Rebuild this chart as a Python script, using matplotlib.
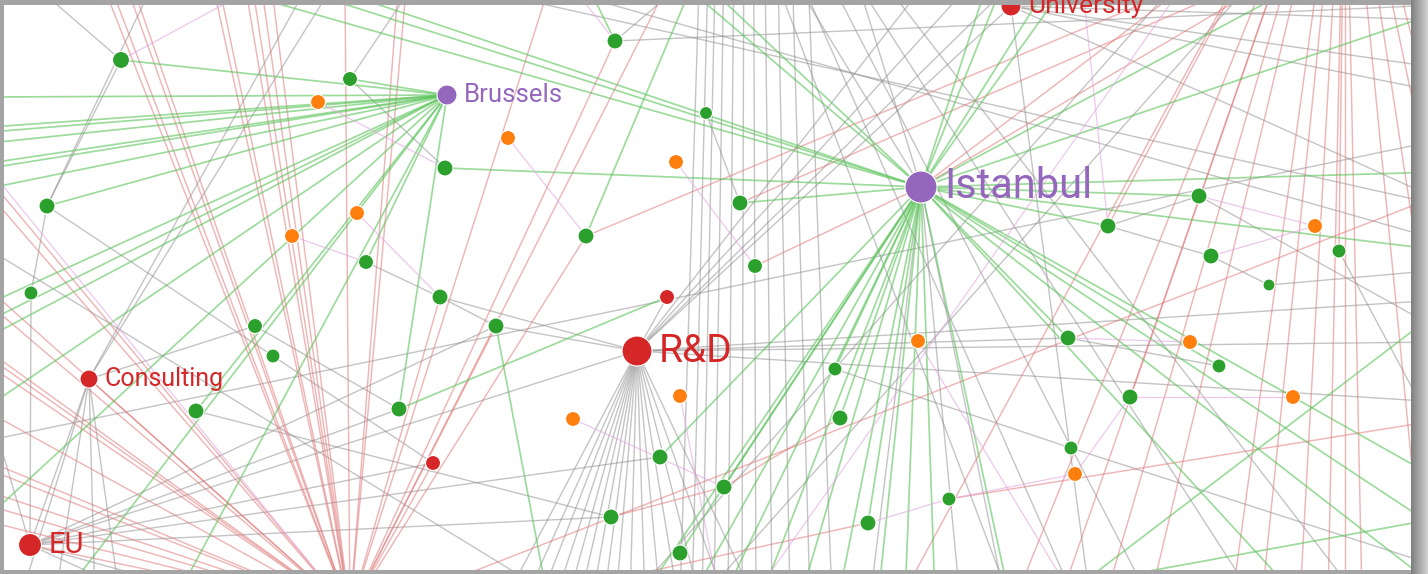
import matplotlib
matplotlib.use('Agg')
import matplotlib.pyplot as plt
import numpy as np
from matplotlib.collections import LineCollection
from matplotlib.patches import Rectangle

# ---------------- nodes inside the view (layout coords, y down) ----------------
node_names = ['Istanbul', 'Brussels', 'R&D', 'Consulting', 'EU', 'University', 'rd2', 'rd3',
              'g01', 'g02', 'g03', 'g04', 'g05', 'g06', 'g07', 'g08', 'g09', 'g10',
              'g11', 'g12', 'g13', 'g14', 'g15', 'g16', 'g17', 'g18', 'g19', 'g20',
              'g21', 'g22', 'g23', 'g24', 'g25', 'g26', 'g27', 'g28', 'g29', 'g30',
              'g31', 'g32', 'g33', 'g34',
              'o01', 'o02', 'o03', 'o04', 'o05', 'o06', 'o07', 'o08', 'o09', 'o10', 'o11', 'o12']
node_x = [921, 447, 637, 89, 30, 1011, 667, 433,
          121, 350, 615, 706, 445, 47, 586, 740, 366, 31,
          440, 496, 755, 255, 273, 196, 399, 660, 724, 611,
          680, 835, 840, 868, 949, 1071, 1130, 1068, 1108, 1199,
          1211, 1269, 1339, 1219,
          318, 508, 676, 357, 292, 918, 680, 573, 1190, 1293, 1075, 1315]
node_y = [187, 95, 351, 379, 545, 6, 297, 463,
          60, 79, 41, 113, 168, 206, 236, 203, 262, 293,
          297, 326, 266, 326, 356, 411, 409, 457, 487, 517,
          553, 369, 418, 523, 499, 448, 397, 338, 226, 196,
          256, 285, 251, 366,
          102, 138, 162, 213, 236, 341, 396, 419, 342, 397, 474, 226]
node_group = ['purple', 'purple', 'red', 'red', 'red', 'red', 'red', 'red'] + ['green'] * 34 + ['orange'] * 12
node_r = [16, 10, 15, 9, 11.5, 10, 7.5, 7.5,
          8.5, 7.5, 8, 6.5, 8, 8, 8, 8, 7.5, 7,
          8, 8, 7.5, 7.5, 7, 8, 8, 8, 8, 8,
          8, 7, 8, 8, 7, 7, 8, 8, 8, 8,
          8, 6, 7, 7] + [7.5] * 12

label_names = ['Istanbul', 'Brussels', 'R&D', 'Consulting', 'EU', 'University']
label_size = [30, 18.5, 28, 18, 21, 19]

group_color = {'green': '#2ca02c', 'orange': '#ff7f0e', 'red': '#d62728', 'purple': '#9467bd'}

# ---------------- neighbours outside the view ----------------
ghost_names = ['bw1', 'bw2', 'bw3', 'bw4', 'bw5', 'bw6', 'bw7', 'bw8', 'bw9', 'bw10', 'bw11', 'bw12', 'bw13', 'bw14',
               'in1', 'in2', 'in3', 'in4', 'in5', 'in6', 'in7', 'in8', 'in9', 'in10', 'in11', 'in12', 'in13', 'in14',
               'in15', 'in16', 'in17', 'in18', 'in19', 'in20', 'in21', 'in22', 'in23', 'in24', 'in25', 'in26', 'in27',
               'gs1', 'gs2', 'gs3', 'gr1', 'gr2', 'gr3', 'gr4',
               'rh', 'rt1', 'rt2', 'rt3', 'rt4', 'rt5', 'rt6', 'rt7', 'rt8', 'rt9', 'rt10', 'rt11', 'rt12', 'rt13', 'rt14', 'rt15',
               'rl1', 'rl2', 'rl3', 'rl4', 'rl5', 'rl6', 'rl7', 'rl8', 'rl9', 'rl10', 'rl11', 'rl12', 'rl13',
               'rh2', 'rb1', 'rb2', 'rb3', 'rb4', 'rb5', 'rb6', 'rb7', 'rb8', 'rb9', 'rb10', 'rb11', 'rb12', 'rb13', 'rb14', 'rb15',
               'da1', 'da2', 'dc1', 'rx1', 'rx2', 'rx4', 'rx5', 'rx6',
               'rdf1', 'rdf2', 'rdf3', 'rdf4', 'rdf5', 'rdf6', 'rdf7', 'rdf8', 'rdf9', 'rdf10', 'rdf11', 'rdf12', 'rdf13', 'rdf14', 'rdf15', 'rdf16',
               'rdr1', 'rdr2', 'rdr3', 'rdt1', 'rdt2', 'rdt3',
               'vb', 'vb1', 'vb2', 'vb3', 'vb4', 'vb5', 'vb6', 'vb7', 'vb8', 'vb9', 'vb10', 'vb11',
               'dt1', 'dt2', 'dt3', 'dt4', 'dt5', 'db1', 'db2', 'db3', 'db4', 'db5',
               'gt1', 'gb1', 'gt2', 'gb2', 'ib1', 'ib2', 'ib3', 'it1', 'it2',
               'uv1', 'uv2', 'uv3', 'uv4', 'uv5',
               'cs1', 'cs2', 'cs3', 'cs4', 'cs5', 'cs6', 'eu1', 'eu2', 'eu3',
               'lt1', 'lt2', 'lt3', 'lt4', 'lt5', 'rg1', 'rg2', 'rg3', 'rg4',
               'xl1', 'xl2', 'xl3', 'xl4', 'xg1', 'xg2', 'xg3', 'xg4',
               'pk1', 'pk2', 'pk3', 'pk4', 'pk5', 'pk6', 'pk8', 'pk9', 'pk10']
ghost_x = [-10, -10, -10, -10, -10, -10, -10, -10, -10, -10, -10, -10, 60, 175,
           230, 300, 335, 690, 712, 985, 1000, 1045, 1062, 1290, 1440, 1440, 1440, 1440,
           1440, 1440, 1300, 640, 690, 722, 760, 800, 838, 878, 905, 935, 1010,
           548, 690, 590, 1060, 1440, 990, 1440,
           350, 105, 112, 128, 134, 214, 220, 246, 253, 262, 272, 345, 398, 406, 548, 665,
           -10, -10, -10, -10, -10, -10, -10, -10, -10, -10, -10, -10, -10,
           1345, 900, 1015, 1060, 1105, 1150, 1232, 1262, 1300, 1328, 1345, 1362, 1425, 1470, 1480, 1480,
           400, 1440, 520, 1200, 1229, 1180, 1255, 1440,
           505, 525, 540, 555, 568, 580, 592, 604, 616, 630, 645, 660, 678, 700, 725, 755,
           1440, 1440, 1440, 920, 965, 1005,
           748, 680, 692, 702, 714, 728, 742, 756, 772, 790, 810, 832,
           780, 805, 835, 862, 890, 1010, 1075, 1150, 1255, 1360,
           1245, 700, 1170, 630, 870, 960, 1005, 800, 860,
           1440, 1440, 1440, 1440, 1090,
           20, 55, 95, 120, 330, 305, -10, 150, 230,
           40, 150, 410, 675, 1440, 1440, 1440, 1440, 1440,
           -10, 560, -10, 1440, 480, 1440, 560, 1440,
           575, 250, 720, 1083, -10, 340, 1075, 1180, 751]
ghost_y = [97, 127, 132, 143, 163, 168, 188, 303, 320, 336, 405, 515, 600, 600,
           -10, -10, -10, -10, -10, -10, -10, -10, -10, -10, 12, 172, 250, 480,
           530, 590, 600, 600, 600, 600, 600, 600, 600, 600, 600, 600, 600,
           600, -10, -10, 600, 310, 600, 518,
           612, -10, -10, -10, -10, -10, -10, -10, -10, -10, -10, -10, -10, -10, -10, -10,
           180, 195, 290, 305, 352, 358, 366, 413, 462, 470, 492, 506, 522,
           -220, 600, 600, 600, 600, 600, 600, 600, 600, 600, 600, 600, 600, 600, 420, 300,
           600, 195, 600, -20, -10, -10, -10, 420,
           600, 600, 600, 600, 600, 600, 600, 600, 600, 600, 600, 600, 600, 600, 600, 600,
           300, 342, 402, -10, -10, -10,
           -1600, 600, 600, 600, 600, 600, 600, 600, 600, 600, 600, 600,
           -10, -10, -10, -10, -10, 600, 600, 600, 600, 600,
           -10, 600, -10, 600, 600, 600, 600, -10, -10,
           20, 68, 92, 200, 600,
           600, 600, 600, 600, -10, -10, 410, 600, 600,
           -10, -10, -10, -10, 5, 270, 330, 567, 440,
           250, 600, 440, 140, -10, 205, -10, 240,
           -10, -10, 600, -10, 170, 600, 600, -10, 600]

# ---------------- links ----------------
green_links = ([('Brussels', 'bw%d' % i) for i in range(1, 15)] +
               [('g01', 'Brussels'), ('g02', 'Brussels'), ('g06', 'Brussels'), ('g16', 'Brussels'),
                ('g17', 'Brussels'), ('g09', 'Brussels')] +
               [('Istanbul', 'in%d' % i) for i in range(1, 28)] +
               [('g05', 'Istanbul'), ('g08', 'Istanbul'), ('g18', 'Istanbul'), ('g19', 'Istanbul'),
                ('g21', 'Istanbul'), ('g22', 'Istanbul'), ('g23', 'Istanbul'), ('g28', 'Istanbul'),
                ('g29', 'Istanbul'), ('g34', 'Istanbul'), ('g24', 'Istanbul'), ('g30', 'Istanbul'),
                ('g17', 'rd2'), ('g12', 'gs1'), ('g07', 'gs2'), ('g03', 'gs3'),
                ('gr1', 'gr2'), ('gr3', 'gr4')])

red_links = ([('rh', 'rt%d' % i) for i in range(1, 16)] +
             [('rh', 'rl%d' % i) for i in range(1, 14)] +
             [('g03', 'rh'), ('g07', 'rh'), ('g12', 'rh'), ('g11', 'rh'), ('Consulting', 'rh'),
              ('EU', 'rh'), ('rd3', 'rh')] +
             [('rh2', 'rb%d' % i) for i in range(1, 16)] +
             [('rh2', 'g27'), ('rh2', 'g29'), ('rh2', 'g33'),
              ('da1', 'da2'), ('g20', 'g19'), ('g19', 'g23'), ('dc1', 'g24'), ('g25', 'rx6'),
              ('g07', 'rx1'), ('g08', 'rx2'), ('g13', 'Istanbul'), ('Istanbul', 'rx4'), ('Istanbul', 'rx5')])

gray_links = ([('R&D', 'rdf%d' % i) for i in range(1, 17)] +
              [('R&D', 'rdr1'), ('R&D', 'rdr2'), ('R&D', 'rdr3'), ('R&D', 'rdt1'), ('R&D', 'rdt2'),
               ('R&D', 'rdt3'), ('R&D', 'g28'), ('R&D', 'University'), ('rd2', 'R&D'), ('g12', 'R&D'),
               ('g11', 'R&D'), ('EU', 'R&D')] +
              [('vb', 'vb%d' % i) for i in range(1, 12)] +
              [('dt%d' % i, 'db%d' % i) for i in range(1, 6)] +
              [('gt1', 'gb1'), ('gt2', 'gb2'), ('Istanbul', 'ib1'), ('Istanbul', 'ib2'), ('Istanbul', 'ib3'),
               ('Istanbul', 'it1'), ('Istanbul', 'it2')] +
              [('University', 'uv%d' % i) for i in range(1, 6)] +
              [('Consulting', 'cs%d' % i) for i in range(1, 7)] +
              [('Consulting', 'EU'), ('Consulting', 'g14'), ('EU', 'eu1'), ('EU', 'eu2'), ('EU', 'eu3'),
               ('EU', 'g12'), ('EU', 'g17'), ('EU', 'rd3'), ('EU', 'g18'), ('EU', 'g20'), ('g10', 'EU'),
               ('lt1', 'g01'), ('g01', 'g06'), ('g06', 'g10'), ('lt2', 'g06'), ('g06', 'g15'),
               ('g02', 'lt3'), ('g02', 'g05'), ('g09', 'g11'), ('g11', 'g12'), ('g14', 'g17'),
               ('g15', 'rd3'), ('g16', 'g20'), ('g03', 'lt4'), ('g03', 'lt5'), ('g04', 'g08'),
               ('g29', 'g30'), ('g29', 'g31'), ('g31', 'g32'), ('g32', 'rg1'), ('g30', 'rg2'),
               ('g22', 'g26'), ('g26', 'rg3'), ('g33', 'rg4'), ('g28', 'g34'),
               ('xl1', 'xl2'), ('xl3', 'xl4'), ('xg1', 'xg2'), ('xg3', 'xg4')])

pink_links = [('o01', 'g05'), ('o02', 'g07'), ('o04', 'g11'), ('o05', 'g09'), ('o03', 'g13'),
              ('g03', 'pk1'), ('g01', 'pk2'), ('o07', 'pk3'), ('o08', 'g19'), ('o09', 'g28'),
              ('o10', 'g27'), ('o11', 'g25'), ('o11', 'g27'), ('o12', 'g30'), ('o12', 'g31'),
              ('g24', 'g25'), ('pk4', 'g29'), ('pk5', 'pk6'), ('o06', 'pk8'), ('pk9', 'pk10')]

# ---------------- drawing ----------------
pos = {n: (x, y) for n, x, y in zip(node_names, node_x, node_y)}
pos.update({n: (x, y) for n, x, y in zip(ghost_names, ghost_x, ghost_y)})

W, H = 1428, 574
fig = plt.figure(figsize=(W / 100, H / 100), dpi=100)
fig.patch.set_facecolor('#a4a4a4')
ax = fig.add_axes([0, 0, 1, 1])
ax.set_xlim(0, W)
ax.set_ylim(H, 0)
ax.axis('off')

# screenshot frame: white panel and soft shadow on the right
panel = Rectangle((3.5, 5), 1407.5, 565, facecolor='white', edgecolor='none', zorder=0)
ax.add_patch(panel)
shade = np.linspace(0.5, 0.82, 20).reshape(1, -1)
ax.imshow(shade, cmap='gray', vmin=0, vmax=1, extent=(1411, 1428, 574, 0), aspect='auto', zorder=0)

link_styles = [(gray_links, '#8a8a8a', 0.5, 1.0),
               (red_links, '#e07a7a', 0.55, 1.05),
               (green_links, '#5cc45c', 0.6, 1.25),
               (pink_links, '#e2a3e0', 0.6, 0.9)]
for links, col, alpha, lw in link_styles:
    segs = [[pos[a], pos[b]] for a, b in links]
    lc = LineCollection(segs, colors=col, alpha=alpha, linewidths=lw, zorder=1)
    ax.add_collection(lc)
    lc.set_clip_path(panel)

sizes = [(1.44 * r) ** 2 for r in node_r]
colors = [group_color[g] for g in node_group]
pts = ax.scatter(node_x, node_y, s=sizes, c=colors, edgecolors='white', linewidths=0.8, zorder=3)
pts.set_clip_path(panel)

for name, fs in zip(label_names, label_size):
    i = node_names.index(name)
    t = ax.text(node_x[i] + node_r[i] + 7, node_y[i], name, fontsize=fs,
                color=group_color[node_group[i]], va='center', ha='left',
                family='Roboto', zorder=4)
    t.set_clip_path(panel)

fig.savefig('out.png', dpi=100, facecolor=fig.get_facecolor())
